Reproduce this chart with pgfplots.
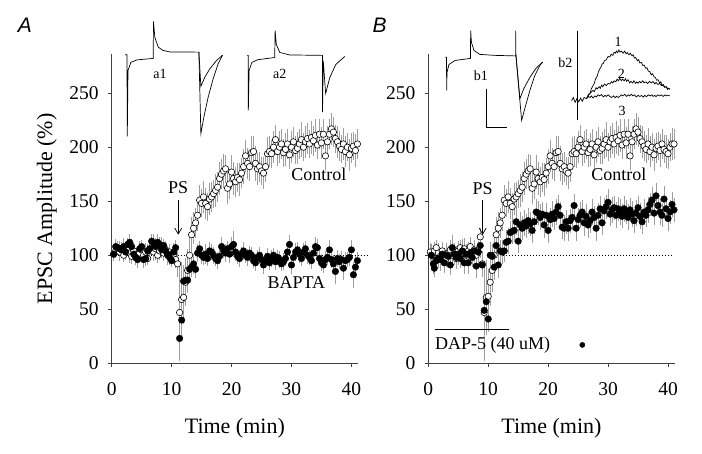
\documentclass[border=0pt]{standalone}
\usepackage{fontspec}
\setmainfont{Liberation Serif}
\newfontfamily\panelfont{Liberation Sans}
\usepackage{pgfplots}
\usepackage{pgfplotstable}
\pgfplotsset{compat=1.18}
\usetikzlibrary{arrows.meta}

% control (open circles), panel A: time, amplitude, s.e.m.
\pgfplotstableread{
x y e
0.33 101 6
0.67 104 7
1.00 106 6
1.33 103 8
1.67 105 7
2.00 100 6
2.33 104 8
2.67 107 7
3.00 102 9
3.33 99 7
3.67 104 8
4.00 101 6
4.33 97 8
4.67 102 7
5.00 105 9
5.33 100 7
5.67 103 8
6.00 97 6
6.33 104 9
6.67 107 7
7.00 103 8
7.33 106 10
7.67 100 7
8.00 104 8
8.33 108 9
8.67 102 7
9.00 105 8
9.33 100 9
9.67 103 7
10.00 98 8
10.33 101 9
10.67 96 8
11.00 92 12
11.33 47 45
11.67 59 35
12.00 61 25
12.33 75 22
12.67 86 20
13.00 100 18
13.33 119 16
13.67 125 15
14.00 130 14
14.33 137 15
14.67 151 14
15.00 148 13
15.33 154 15
15.67 148 14
16.00 145 13
16.33 152 15
16.67 154 14
17.00 157 13
17.33 160 15
17.67 163 14
18.00 171 15
18.33 175 14
18.67 178 16
19.00 180 13
19.33 162 15
19.67 166 14
20.00 177 16
20.33 171 15
20.67 168 14
21.00 172 13
21.33 170 15
21.67 176 14
22.00 182 16
22.33 192 15
22.67 185 14
23.00 182 13
23.33 195 15
23.67 196 14
24.00 185 16
24.33 180 15
24.67 182 14
25.00 178 13
25.33 176 15
25.67 182 14
26.00 194 15
26.33 196 14
26.67 194 13
27.00 200 15
27.33 207 14
27.67 196 13
28.00 200 15
28.33 203 14
28.67 195 13
29.00 198 15
29.33 203 14
29.67 193 13
30.00 200 15
30.33 205 14
30.67 197 13
31.00 199 15
31.33 203 14
31.67 207 16
32.00 200 13
32.33 205 15
32.67 208 14
33.00 203 13
33.33 209 15
33.67 206 14
34.00 211 15
34.33 202 13
34.67 212 14
35.00 204 15
35.33 212 14
35.67 192 13
36.00 205 15
36.33 212 14
36.67 217 15
37.00 214 14
37.33 208 13
37.67 205 15
38.00 201 14
38.33 198 13
38.67 203 15
39.00 196 14
39.33 200 13
39.67 193 15
40.00 199 14
40.33 201 13
40.67 197 15
41.00 203 14
}\ctrlA

% BAPTA (filled circles), panel A
\pgfplotstableread{
x y e
0.33 101 6
0.67 108 7
1.00 107 6
1.33 106 7
1.67 105 6
2.00 108 8
2.33 103 7
2.67 110 6
3.00 112 8
3.33 108 7
3.67 101 6
4.00 98 7
4.33 96 8
4.67 106 7
5.00 108 6
5.33 96 8
5.67 97 7
6.00 104 6
6.33 106 8
6.67 113 7
7.00 111 9
7.33 108 7
7.67 112 8
8.00 110 7
8.33 105 8
8.67 109 6
9.00 104 7
9.33 101 8
9.67 98 7
10.00 95 6
10.33 103 8
10.67 107 7
11.33 23 20
11.67 40 18
12.00 76 15
12.33 77 14
12.67 77 12
13.00 87 10
13.33 89 9
13.67 92 9
14.00 87 8
14.33 102 8
14.67 106 7
15.00 100 8
15.33 98 7
15.67 101 9
16.00 97 7
16.33 104 8
16.67 103 7
17.00 100 8
17.33 97 7
17.67 95 8
18.00 99 7
18.33 108 9
18.67 104 7
19.00 102 8
19.33 106 7
19.67 101 8
20.00 108 9
20.33 110 12
20.67 103 8
21.00 99 7
21.33 97 8
21.67 101 7
22.00 104 8
22.33 100 7
22.67 98 8
23.00 102 7
23.33 100 8
23.67 95 7
24.00 93 8
24.33 98 7
24.67 100 8
25.00 96 7
25.33 91 8
25.67 95 7
26.00 99 8
26.33 93 7
26.67 97 8
27.00 100 7
27.33 94 8
27.67 98 7
28.00 96 8
28.33 92 7
28.67 94 8
29.00 97 7
29.33 103 8
29.67 110 9
30.00 91 8
30.33 98 7
30.67 103 8
31.00 105 7
31.33 101 8
31.67 97 7
32.00 103 8
32.33 106 7
32.67 100 8
33.00 98 7
33.33 95 8
33.67 102 7
34.00 108 9
34.33 107 8
34.67 97 7
35.00 93 8
35.33 91 7
35.67 96 8
36.00 98 7
36.33 105 9
36.67 96 8
37.00 92 8
37.33 85 12
37.67 97 8
38.00 94 7
38.33 96 8
38.67 88 11
39.00 95 8
39.33 96 7
39.67 98 8
40.00 105 9
40.33 82 12
40.67 89 10
41.00 95 8
}\baptaA

% control, panel B
\pgfplotstableread{
x y e
0.33 103 8
0.67 100 6
1.00 104 8
1.33 107 7
1.67 102 9
2.00 99 7
2.33 104 8
2.67 101 6
3.00 97 8
3.33 102 7
3.67 105 9
4.00 100 7
4.33 103 8
4.67 97 6
5.00 104 9
5.33 107 7
5.67 103 8
6.00 106 10
6.33 100 7
6.67 104 8
7.00 108 9
7.33 102 7
7.67 105 8
8.00 100 9
8.33 103 7
8.67 117 8
9.00 92 12
9.33 47 45
9.67 61 35
10.00 62 25
10.33 75 22
10.67 86 20
11.00 100 18
11.33 119 16
11.67 125 15
12.00 130 14
12.33 137 15
12.67 151 14
13.00 148 13
13.33 154 15
13.67 148 14
14.00 145 13
14.33 152 15
14.67 154 14
15.00 157 13
15.33 160 15
15.67 163 14
16.00 171 15
16.33 175 14
16.67 178 16
17.00 180 13
17.33 162 15
17.67 166 14
18.00 177 16
18.33 171 15
18.67 168 14
19.00 172 13
19.33 170 15
19.67 176 14
20.00 182 16
20.33 192 15
20.67 185 14
21.00 182 13
21.33 195 15
21.67 196 14
22.00 185 16
22.33 180 15
22.67 182 14
23.00 178 13
23.33 176 15
23.67 182 14
24.00 194 15
24.33 196 14
24.67 194 13
25.00 200 15
25.33 207 14
25.67 196 13
26.00 200 15
26.33 203 14
26.67 195 13
27.00 198 15
27.33 203 14
27.67 193 13
28.00 200 15
28.33 205 14
28.67 197 13
29.00 199 15
29.33 203 14
29.67 207 16
30.00 200 13
30.33 205 15
30.67 208 14
31.00 203 13
31.33 209 15
31.67 206 14
32.00 211 15
32.33 202 13
32.67 212 14
33.00 204 15
33.33 212 14
33.67 192 13
34.00 205 15
34.33 212 14
34.67 217 15
35.00 214 14
35.33 208 13
35.67 205 15
36.00 201 14
36.33 198 13
36.67 203 15
37.00 196 14
37.33 200 13
37.67 193 15
38.00 199 14
38.33 201 13
38.67 197 15
39.00 203 14
39.33 198 13
39.67 196 15
40.00 194 14
40.33 200 13
40.67 203 15
41.00 203 14
}\ctrlB

% D-AP5 (filled circles), panel B
\pgfplotstableread{
x y e
0.50 100 10
0.83 92 9
1.00 88 8
1.33 95 10
1.67 97 9
2.00 96 11
2.33 101 10
2.67 93 9
3.00 100 11
3.33 99 10
3.67 91 9
4.00 107 12
4.33 101 10
4.67 98 11
5.00 101 10
5.33 97 9
5.67 104 11
6.00 93 10
6.33 101 9
6.67 93 10
7.00 102 11
7.33 98 9
7.67 104 10
8.00 90 11
8.33 103 10
8.67 109 12
9.00 91 10
9.33 49 12
9.67 57 13
10.00 41 12
10.33 100 12
10.67 99 11
11.00 89 12
11.33 109 11
11.67 91 12
12.00 104 10
12.33 103 11
12.67 104 10
13.00 112 11
13.33 113 12
13.67 121 11
14.00 122 12
14.33 123 11
14.67 131 12
15.00 113 11
15.33 128 12
15.67 125 11
16.00 130 12
16.33 127 11
16.67 132 12
17.00 129 11
17.33 123 12
17.67 131 11
18.00 140 12
18.33 139 11
18.67 135 12
19.00 138 11
19.33 128 12
19.67 137 11
20.00 123 12
20.33 133 11
20.67 138 12
21.00 134 11
21.33 140 12
21.67 145 11
22.00 137 12
22.33 126 11
22.67 125 12
23.00 131 11
23.33 125 12
23.67 132 11
24.00 135 12
24.33 146 11
24.67 125 12
25.00 133 11
25.33 137 12
25.67 140 11
26.00 130 12
26.33 136 11
26.67 128 12
27.00 132 11
27.33 140 12
27.67 135 11
28.00 125 12
28.33 137 11
28.67 143 12
29.00 130 11
29.33 141 12
29.67 145 11
30.00 149 12
30.33 138 11
30.67 142 12
31.00 144 11
31.33 137 12
31.67 143 11
32.00 140 12
32.33 136 11
32.67 143 12
33.00 140 11
33.33 135 12
33.67 142 11
34.00 138 12
34.33 132 11
34.67 139 12
35.00 144 11
35.33 136 12
35.67 131 11
36.00 140 12
36.33 137 11
36.67 142 12
37.00 147 11
37.33 151 12
37.67 139 11
38.00 155 12
38.33 146 11
38.67 140 12
39.00 137 11
39.33 152 12
39.67 143 11
40.00 134 12
40.33 140 11
40.67 147 12
41.00 142 11
}\dapB

\pgfplotsset{
  epscaxis/.style={
    scale only axis, width=246.3pt, height=309pt,
    xmin=0, xmax=41.1, ymin=0, ymax=286,
    axis x line*=bottom, axis y line*=left,
    axis line style={black!75, line width=0.8pt},
    xtick={0,10,...,40}, ytick={0,50,...,250},
    tick align=outside, major tick length=3.5pt,
    tick style={black!75, line width=0.8pt},
    /pgf/number format/assume math mode=true,
    ticklabel style={font=\fontsize{19.5}{20}\selectfont},
    xticklabel style={yshift=-12pt},
    yticklabel style={xshift=-6pt},
    label style={font=\fontsize{22}{24}\selectfont},
    xlabel={Time (min)},
    xlabel style={at={(axis description cs:0.5,-0.21)}, anchor=center},
    clip=false,
  },
  sem/.style={only marks,
    error bars/y dir=both, error bars/y explicit,
    error bars/error mark=none,
    error bars/error bar style={black!38, line width=0.9pt}},
  openpts/.style={sem, mark=*, mark size=3.2pt,
    mark options={fill=white, draw=black, line width=0.6pt}},
  fillpts/.style={sem, mark=*, mark size=3.3pt,
    mark options={fill=black, draw=black}},
  trace/.style={black, line width=0.7pt, forget plot},
}
\tikzset{
  notelbl/.style={font=\fontsize{18}{18}\selectfont},
  insetlbl/.style={font=\fontsize{14}{14}\selectfont},
}

\begin{document}
\begin{tikzpicture}
\path[use as bounding box] (0,0) rectangle (702pt,454pt);

% ---------- A ----------
\begin{axis}[epscaxis, at={(111.7pt,90.7pt)}, anchor=south west,
  ylabel={EPSC Amplitude (\%)},
  ylabel style={at={(axis description cs:-0.263,0.5)}, anchor=center}]
\addplot[black, line width=0.6pt, dash pattern=on 1pt off 2pt, forget plot]
  coordinates {(0,100) (42.8,100)};
\addplot[openpts] table[x=x, y=y, y error=e] {\ctrlA};
\addplot[fillpts] table[x=x, y=y, y error=e] {\baptaA};
% inset a1
\addplot[trace] coordinates {(2.22,285.6) (2.55,285.6) (2.6,210) (2.72,271) (3.2,278.5)
  (4.2,280.8) (6.93,282.2) (6.97,316.4) (7.2,301.6) (7.77,292.6) (8.55,289.6)
  (9.7,288.2) (14.55,288) (14.88,212.6) (15.38,227.9) (16.1,246.4) (16.93,263.3)
  (17.77,277.3) (18.5,285.2)};
\addplot[trace] coordinates {(14.55,288) (14.88,256.3) (15.55,264.9) (16.38,272.6)
  (17.5,280.3) (18.5,285.2)};
% inset a2
\addplot[trace] coordinates {(22.55,285) (22.77,285) (22.8,234) (22.93,271) (23.4,278.5)
  (24.4,281) (27.2,283) (27.27,308) (27.47,295) (28.05,287.7) (29.7,285.4)
  (35.17,285) (35.18,232.5) (35.3,280) (35.7,249.8) (36.4,264.6) (37.4,276.6)
  (38.9,284)};
\node[insetlbl] at (axis cs:8.05,268) {a1};
\node[insetlbl] at (axis cs:28.05,268) {a2};
\node[notelbl] at (axis cs:11.1,163) {PS};
\draw[-{Straight Barb[length=6pt,width=7pt]}, line width=0.7pt]
  (axis cs:11.1,151) -- (axis cs:11.1,119);
\node[notelbl] at (axis cs:34.55,175) {Control};
\node[notelbl] at (axis cs:30.83,75) {BAPTA};
\end{axis}

% ---------- B ----------
\begin{axis}[epscaxis, at={(428.3pt,90.7pt)}, anchor=south west]
\addplot[black, line width=0.6pt, dash pattern=on 1pt off 2pt, forget plot]
  coordinates {(12.5,100) (40.8,100)};
\addplot[openpts] table[x=x, y=y, y error=e] {\ctrlB};
\addplot[fillpts] table[x=x, y=y, y error=e] {\dapB};
% inset b1
\addplot[trace] coordinates {(2.78,283.4) (3.03,283.4) (3.07,252.6) (3.12,269.2)
  (3.45,276.6) (4.45,280.3) (7.03,282.2) (7.07,308) (7.2,297) (7.62,289.6)
  (8.62,285.9) (11.12,285) (14.57,284.5) (14.57,308) (14.62,285.3) (15.57,224.9)
  (16.12,236) (16.95,252.6) (17.78,266.5) (18.62,275.7) (19.07,278.8)};
\addplot[trace] coordinates {(14.62,285.3) (15.28,244.9) (15.95,254.4) (16.95,264.6)
  (17.95,272.9) (19.07,278.8)};
% scale bar
\addplot[trace] coordinates {(9.73,254.2) (9.73,218.7) (13.07,218.7)};
% inset b2
\addplot[trace] coordinates {(24.83,308) (24.83,224.8)};
\addplot[trace] coordinates {(23.9,243) (24.2,246) (24.5,241.5) (24.8,245) (25.1,242)
  (25.4,245.5) (25.7,242.5) (26.0,246) (26.4,244.9) (26.7,248.5) (27.0,250) (27.2,254)
  (27.5,257.2) (27.7,259) (27.9,263) (28.2,266) (28.4,270) (28.62,272.6) (28.8,274)
  (29.0,277) (29.2,277.5) (29.4,280) (29.7,281) (30.0,284) (30.3,283.5) (30.5,286)
  (30.8,285) (31.0,288) (31.2,287) (31.4,289) (31.6,287.5) (31.8,290) (32.0,288)
  (32.2,289) (32.5,287) (32.78,289) (33.0,286.5) (33.2,287.5) (33.5,285.5) (33.7,287)
  (34.0,284.5) (34.17,285.5) (34.4,282.5) (34.6,283) (34.9,280) (35.1,281)
  (35.3,278) (35.57,278.5) (35.8,275.5) (36.0,276) (36.3,273) (36.5,273.5)
  (36.7,270.5) (36.95,270) (37.2,267) (37.4,268) (37.7,265) (37.9,264.5)
  (38.1,262) (38.33,262.5) (38.6,259.5) (38.8,260.5) (39.0,257) (39.2,258)
  (39.45,255.5) (39.7,256) (39.9,253.5) (40.1,254.5) (40.28,253.5)};
\addplot[trace] coordinates {(26.4,244.9) (26.7,247.5) (26.9,249.5) (27.2,251) (27.5,252.6)
  (27.7,251.5) (28.0,255) (28.2,254) (28.5,256) (28.7,254.5) (28.9,257.5) (29.1,256)
  (29.4,258.5) (29.7,257) (30.0,259) (30.3,258.5) (30.57,260.8) (30.8,259.5)
  (31.0,261.5) (31.3,260.5) (31.5,263) (31.7,261.5) (31.95,263.8) (32.2,261.5)
  (32.4,263) (32.7,261.5) (32.9,263.5) (33.1,261) (33.33,262.5) (33.6,259.5)
  (33.8,261) (34.1,259.5) (34.3,261.5) (34.6,259) (34.8,260.5) (35.0,259.2)
  (35.28,261) (35.5,259.5) (35.8,261.5) (36.0,259.5) (36.3,260.5) (36.6,259)
  (36.9,261) (37.2,259.5) (37.5,260.8) (37.8,258.5) (38.0,260) (38.3,258)
  (38.6,259) (38.9,257) (39.17,257.8) (39.4,255.5) (39.7,256) (40.0,254)
  (40.28,254.5)};
\addplot[trace] coordinates {(26.4,244.9) (26.7,247) (27.0,246) (27.2,247.5) (27.5,245.5)
  (27.8,247.5) (28.07,246.5) (28.3,248.5) (28.6,247.5) (28.9,248.8) (29.2,246.5)
  (29.5,248) (29.73,247) (30.0,248.5) (30.3,247) (30.6,246) (30.9,247.5)
  (31.2,245.8) (31.4,247.2) (31.7,246) (31.95,247) (32.2,248.5) (32.5,247.5)
  (32.8,249) (33.1,247) (33.4,248.5) (33.6,247.5) (33.9,249) (34.17,247.5)
  (34.4,248.5) (34.7,246.5) (35.0,248) (35.3,247) (35.6,247.8) (35.9,246.4)
  (36.1,248) (36.4,246.8) (36.7,248.5) (37.0,247.5) (37.3,248.5) (37.5,247)
  (37.8,248) (38.0,246.8) (38.3,248.5) (38.6,247.5) (38.9,248.5) (39.2,247)
  (39.5,248.5) (39.7,247.5) (40.0,248.2) (40.28,247.5)};
\node[insetlbl] at (axis cs:8.78,266.4) {b1};
\node[insetlbl] at (axis cs:22.87,278.5) {b2};
\node[insetlbl] at (axis cs:31.67,297.3) {1};
\node[insetlbl] at (axis cs:32.23,268) {2};
\node[insetlbl] at (axis cs:32.33,234) {3};
\node[notelbl] at (axis cs:9.07,162) {PS};
\draw[-{Straight Barb[length=6pt,width=7pt]}, line width=0.7pt]
  (axis cs:9.07,151) -- (axis cs:9.07,119);
\node[notelbl] at (axis cs:31.8,175) {Control};
\addplot[black, line width=0.8pt, forget plot] coordinates {(1.1,31.6) (13.5,31.6)};
\node[notelbl, anchor=west, inner sep=0pt] at (axis cs:1.1,17) {DAP-5 (40 uM)};
\addplot[only marks, mark=*, mark size=2.6pt, black] coordinates {(25.7,17)};
\end{axis}

\node[font=\panelfont\itshape\fontsize{21}{21}\selectfont] at (25pt,428.5pt) {A};
\node[font=\panelfont\itshape\fontsize{21}{21}\selectfont] at (379.5pt,428.5pt) {B};
\end{tikzpicture}
\end{document}
